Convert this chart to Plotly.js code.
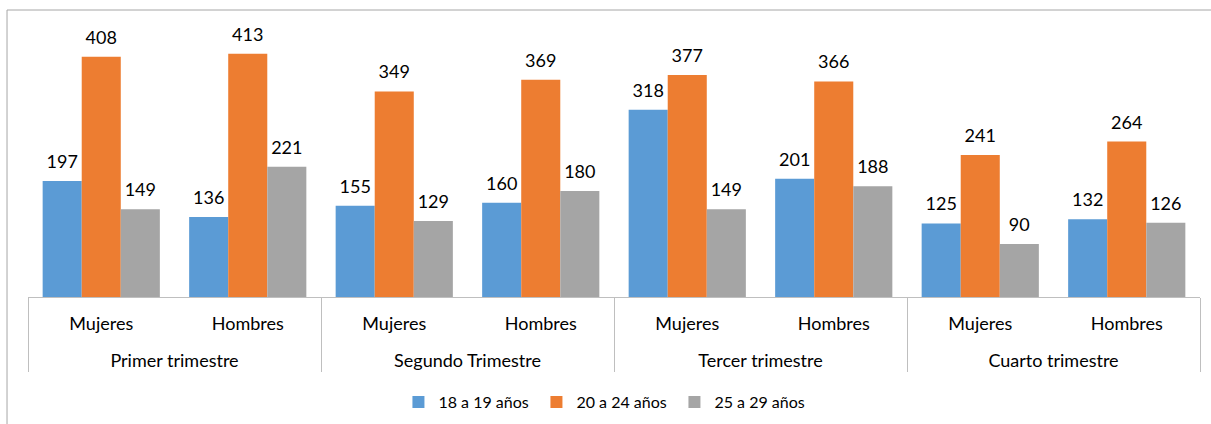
<!DOCTYPE html>
<html><head><meta charset="utf-8">
<script src="https://cdn.plot.ly/plotly-3.0.1.min.js"></script>
<style>html,body{margin:0;padding:0;background:#fff;}#chart{width:1211px;height:424px;}</style>
</head><body><div id="chart"></div>
<script>
const quarters = ["Primer trimestre","Primer trimestre","Segundo Trimestre","Segundo Trimestre","Tercer trimestre","Tercer trimestre","Cuarto trimestre","Cuarto trimestre"];
const sexes = ["Mujeres","Hombres","Mujeres","Hombres","Mujeres","Hombres","Mujeres","Hombres"];
const seriesNames = ["18 a 19 años","20 a 24 años","25 a 29 años"];
const s18_19 = [197,136,155,160,318,201,125,132];
const s20_24 = [408,413,349,369,377,366,241,264];
const s25_29 = [149,221,129,180,149,188,90,126];
const colors = ["#5b9bd5","#ed7d31","#a5a5a5"];

const fam = "Lato, 'Open Sans', sans-serif";
const xCats = [quarters.map(q=>" <br>"+q), sexes];
const bars = [s18_19,s20_24,s25_29].map((vals,i)=>({
  type:"bar", name:seriesNames[i], x:xCats, y:vals,
  marker:{color:colors[i]}, hoverinfo:"skip"
}));
const labels = [s18_19,s20_24,s25_29].map((vals,i)=>({
  type:"scatter", mode:"markers+text", showlegend:false, x:xCats, y:vals,
  text:vals.map(String), textposition:"top center",
  marker:{size:12, opacity:0, color:colors[i]},
  textfont:{family:fam,size:18,color:"#000"}, cliponaxis:false, hoverinfo:"skip"
}));
const layout = {
  width:1211, height:424,
  margin:{l:28,r:11,t:32,b:127, autoexpand:false},
  paper_bgcolor:"#fff", plot_bgcolor:"#fff",
  barmode:"group", bargap:0.2, bargroupgap:0,
  scattermode:"group", scattergap:0.2,
  font:{family:fam,size:18,color:"#000"},
  showlegend:true,
  legend:{orientation:"h", x:0.4927, xanchor:"center", yref:"container", y:0.092, yanchor:"top",
    entrywidth:93, entrywidthmode:"pixels", font:{family:fam,size:16,color:"#000"}},
  xaxis:{type:"multicategory", automargin:false, showline:true, linecolor:"#bfbfbf", linewidth:1,
    showdividers:true, dividercolor:"#bfbfbf", dividerwidth:1, ticklabelstandoff:10,
    tickfont:{family:fam,size:18,color:"#000"}, ticks:"", showgrid:false, zeroline:false},
  yaxis:{range:[0,450], automargin:false, showticklabels:false, showgrid:false, zeroline:false, showline:false, fixedrange:true},
  shapes:[{type:"rect", xref:"paper", yref:"paper", x0:-0.0179, x1:1.05, y0:-0.6, y1:1.083,
    line:{color:"#a6a6a6", width:1}, fillcolor:"rgba(0,0,0,0)", layer:"below"}]
};
Plotly.newPlot("chart", bars.concat(labels), layout, {displayModeBar:false, staticPlot:true});
</script></body></html>
